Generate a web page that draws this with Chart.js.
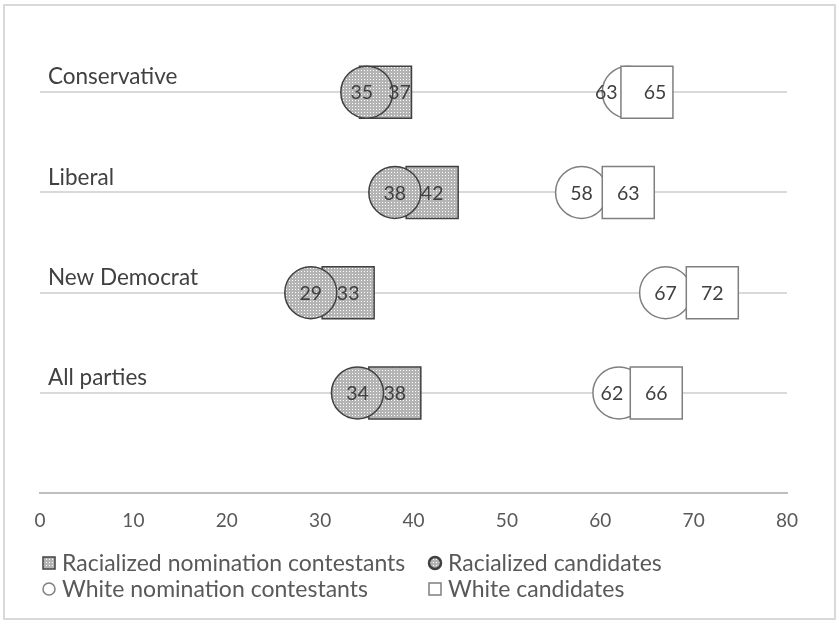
<!DOCTYPE html>
<html>
<head>
<meta charset="utf-8">
<script src="https://cdn.jsdelivr.net/npm/chart.js@4"></script>
<style>
  html, body { margin: 0; padding: 0; background: #fff; }
</style>
</head>
<body>
<canvas id="chart" width="839" height="624"></canvas>
<script>
// Share (%) by party
const categories = ['Conservative', 'Liberal', 'New Democrat', 'All parties'];
const racializedContestants = [37, 42, 33, 38];
const racializedCandidates = [35, 38, 29, 34];
const whiteContestants = [63, 58, 67, 62];
const whiteCandidates = [65, 63, 72, 66];
const xTicks = [0, 10, 20, 30, 40, 50, 60, 70, 80];

const FONT = 'Lato, "Open Sans", sans-serif';
const canvas = document.getElementById('chart');
const ctx = canvas.getContext('2d');

// dotted grey fill for the racialized markers
function dotPattern() {
  const c = document.createElement('canvas');
  c.width = 3;
  c.height = 3;
  const g = c.getContext('2d');
  g.fillStyle = '#b4b4b4';
  g.fillRect(0, 0, 3, 3);
  g.fillStyle = '#ffffff';
  g.fillRect(1, 1, 1, 1);
  return ctx.createPattern(c, 'repeat');
}
const dots = dotPattern();

function series(label, values, style, fill, border, order) {
  return {
    label,
    data: values.map((v, i) => ({ x: v, y: categories.length - i })),
    pointStyle: style,
    pointRadius: style === 'rect' ? 26 * Math.SQRT2 : 26,
    backgroundColor: fill,
    borderColor: border,
    borderWidth: 1.5,
    showLine: false,
    order,
    clip: false
  };
}

// frame round the whole chart
const framePlugin = {
  id: 'frame',
  beforeDraw(chart) {
    const c = chart.ctx;
    c.save();
    c.fillStyle = '#fff';
    c.fillRect(0, 0, chart.width, chart.height);
    c.strokeStyle = '#d9d9d9';
    c.lineWidth = 2;
    c.strokeRect(4, 5, 831, 614);
    c.restore();
  }
};

// party names above each line
const categoryPlugin = {
  id: 'categoryNames',
  afterDraw(chart) {
    const c = chart.ctx;
    const y = chart.scales.y;
    c.save();
    c.font = '22.5px ' + FONT;
    c.fillStyle = '#404040';
    c.textAlign = 'left';
    c.textBaseline = 'middle';
    categories.forEach((name, i) => {
      c.fillText(name, chart.chartArea.left + 8, y.getPixelForValue(categories.length - i) - 15);
    });
    c.restore();
  }
};

// value labels on the markers
const valueLabelPlugin = {
  id: 'valueLabels',
  afterDatasetsDraw(chart, args, opts) {
    const c = chart.ctx;
    c.save();
    c.font = '19.5px ' + FONT;
    c.fillStyle = '#404040';
    c.textAlign = 'center';
    c.textBaseline = 'middle';
    chart.data.datasets.forEach((ds, di) => {
      chart.getDatasetMeta(di).data.forEach((pt, i) => {
        const dx = opts.nudge[di + ':' + i] || 0;
        c.fillText(String(ds.data[i].x), pt.x + dx, pt.y + 1);
      });
    });
    c.restore();
  }
};

// two-column legend under the axis
const legendPlugin = {
  id: 'gridLegend',
  afterDraw(chart, args, opts) {
    const c = chart.ctx;
    c.save();
    c.font = opts.size + 'px ' + FONT;
    c.textAlign = 'left';
    c.textBaseline = 'middle';
    chart.data.datasets.forEach((ds, i) => {
      const x = opts.cols[i % 2];
      const y = opts.rows[Math.floor(i / 2)];
      const mx = x - 13;
      const r = 6;
      c.fillStyle = ds.backgroundColor;
      c.strokeStyle = ds.borderColor;
      c.lineWidth = ds.pointStyle === 'circle' && ds.borderColor === '#404040' ? 2.5 : 1.5;
      c.beginPath();
      if (ds.pointStyle === 'circle') {
        c.arc(mx, y, r, 0, Math.PI * 2);
      } else {
        c.rect(mx - r, y - r, r * 2, r * 2);
      }
      c.fill();
      c.stroke();
      c.fillStyle = '#595959';
      c.fillText(ds.label, x, y + 1);
    });
    c.restore();
  }
};

new Chart(ctx, {
  type: 'scatter',
  data: {
    datasets: [
      series('Racialized nomination contestants', racializedContestants, 'rect', dots, '#404040', 3),
      series('Racialized candidates', racializedCandidates, 'circle', dots, '#404040', 2),
      series('White nomination contestants', whiteContestants, 'circle', '#ffffff', '#7f7f7f', 1),
      series('White candidates', whiteCandidates, 'rect', '#ffffff', '#7f7f7f', 0)
    ]
  },
  options: {
    responsive: false,
    animation: false,
    events: [],
    layout: { padding: { left: 40, right: 52, top: 42, bottom: 76 } },
    scales: {
      x: {
        type: 'linear',
        min: 0,
        max: 80,
        afterBuildTicks: s => { s.ticks = xTicks.map(v => ({ value: v })); },
        grid: { display: false, drawTicks: false },
        border: { display: true, color: '#bfbfbf', width: 2 },
        ticks: { color: '#595959', font: { family: FONT, size: 19 }, padding: 16, maxRotation: 0 }
      },
      y: {
        type: 'linear',
        min: 0,
        max: 4.5,
        afterBuildTicks: s => { s.ticks = categories.map((c, i) => ({ value: categories.length - i })); },
        grid: { color: '#d9d9d9', lineWidth: 2, drawTicks: false },
        border: { display: false },
        ticks: { display: false }
      }
    },
    plugins: {
      legend: { display: false },
      tooltip: { enabled: false },
      valueLabels: { nudge: { '0:0': 14, '1:0': -5, '2:0': -22, '3:0': 8, '2:3': -7 } },
      gridLegend: { size: 23, cols: [62, 448], rows: [563, 589] }
    }
  },
  plugins: [framePlugin, categoryPlugin, valueLabelPlugin, legendPlugin]
});
</script>
</body>
</html>
